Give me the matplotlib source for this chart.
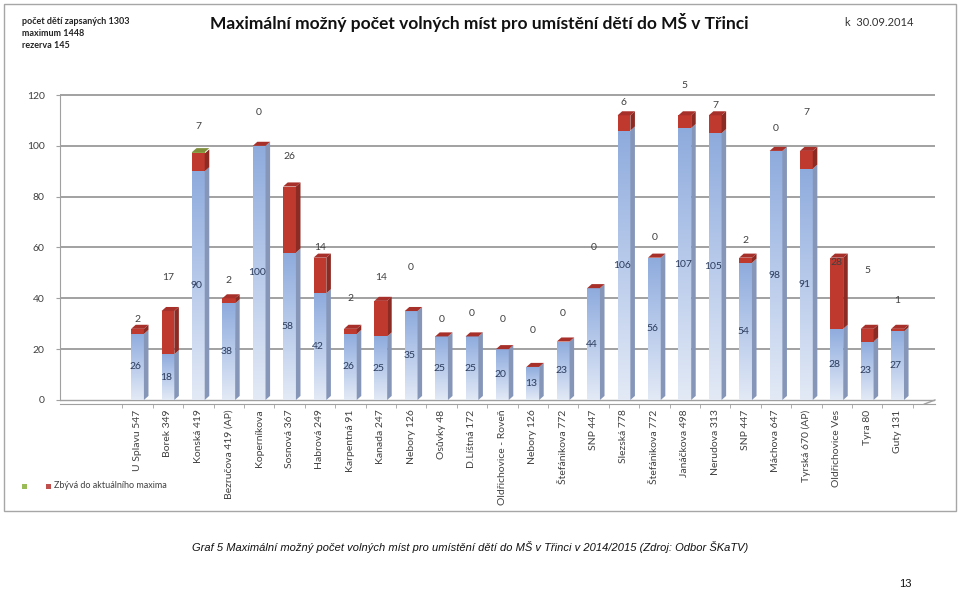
import matplotlib
matplotlib.use("Agg")
import matplotlib.pyplot as plt
import numpy as np
from matplotlib.patches import Polygon, Rectangle
from matplotlib.colors import LinearSegmentedColormap

# ---------------- data ----------------
categories = ["U Splavu 547", "Borek 349", "Konská 419", "Bezručova 419 (AP)", "Koperníkova",
              "Sosnová 367", "Habrová 249", "Karpentná 91", "Kanada 247", "Nebory 126",
              "Osůvky 48", "D.Líštná 172", "Oldřichovice - Roveň", "Nebory 126", "Štefánikova 772",
              "SNP 447", "Slezská 778", "Štefánikova 772", "Janáčkova 498", "Nerudova 313",
              "SNP 447", "Máchova 647", "Tyrská 670 (AP)", "Oldřichovice Ves", "Tyra 80", "Guty 131"]
enrolled = [26, 18, 90, 38, 100, 58, 42, 26, 25, 35, 25, 25, 20, 13, 23, 44, 106, 56, 107, 105,
            54, 98, 91, 28, 23, 27]
remaining = [2, 17, 7, 2, 0, 26, 14, 2, 14, 0, 0, 0, 0, 0, 0, 0, 6, 0, 5, 7, 2, 0, 7, 28, 5, 1]
green_extra = [0, 0, 0.5, 0, 0, 0, 0, 0, 0, 0, 0, 0, 0, 0, 0, 0, 0, 0, 0, 0, 0, 0, 0, 0, 0, 0]
yticks = [0, 20, 40, 60, 80, 100, 120]

# ---------------- layout (label lift above bar top, data units) ----------------
red_label_lift = [3.5, 13, 10, 7, 13, 12, 4, 12, 9, 17, 6.5, 9, 11.5, 14.5, 11, 16, 5, 8,
                  11.6, 4, 6.6, 9, 15, -2, 23, 11]

FW, FH = 960, 590
fig = plt.figure(figsize=(9.6, 5.9), dpi=100)
fig.patch.set_facecolor("white")

font = ["Lato", "DejaVu Sans"]
plt.rcParams["font.family"] = font

def fx(px):
    return px / FW

def fy(py):
    return 1 - py / FH

# chart border
fig.patches.append(Rectangle((fx(4), fy(511)), fx(952), 507 / FH, transform=fig.transFigure,
                             fill=False, edgecolor="#a6a6a6", linewidth=1.0))

x0, x1 = -2.55, 26.23
y0, y1 = -1.6, 121
ax_left, ax_right = fx(60), fx(935)
ax_bottom = fy(400 + 1.6 * 2.54)
ax_top = fy(95 - 1 * 2.54)
ax = fig.add_axes([ax_left, ax_bottom, ax_right - ax_left, ax_top - ax_bottom])
ax.set_facecolor("none")

# gridlines
for t in yticks[1:]:
    ax.axhline(t, color="#9a9a9a", linewidth=1.3, zorder=1)
ax.axhline(0, color="#a0a0a0", linewidth=1.0, zorder=1)
ax.plot([x1, x1 - 0.35], [0, y0], color="#a0a0a0", linewidth=1.0, clip_on=False, zorder=1)

w = 0.42
dx, dy = 0.15, 1.6
xs = np.arange(len(categories))

blue_cmap = LinearSegmentedColormap.from_list("b", ["#e3eaf6", "#b9cbeb", "#8eabdd"])
side_cmap = LinearSegmentedColormap.from_list("s", ["#b6c0d0", "#7e90b4"])
grad = np.linspace(0, 1, 256).reshape(-1, 1)

front = ax.bar(xs, enrolled, width=w, color="none", zorder=3)
for i, rect in enumerate(front):
    b = enrolled[i]
    r = remaining[i]
    g = green_extra[i]
    xl, xr = i - w / 2, i + w / 2
    # blue front with vertical gradient
    im = ax.imshow(grad, cmap=blue_cmap, extent=[xl, xr, 0, b], origin="lower",
                   aspect="auto", zorder=3, interpolation="bilinear")
    im.set_clip_path(rect)
    # blue side
    ax.add_patch(Polygon([(xr, 0), (xr + dx, dy), (xr + dx, b + dy), (xr, b)],
                         closed=True, facecolor="#8596b8", edgecolor="none", zorder=3))
    top = b
    if r > 0:
        ax.add_patch(Rectangle((xl, b), w, r, facecolor="#c0392f", edgecolor="none", zorder=3))
        ax.add_patch(Polygon([(xr, b), (xr + dx, b + dy), (xr + dx, b + r + dy), (xr, b + r)],
                             closed=True, facecolor="#8c2a24", edgecolor="none", zorder=3))
        top = b + r
    if g > 0:
        ax.add_patch(Rectangle((xl, top), w, g, facecolor="#8fa84a", edgecolor="none", zorder=3))
        top = top + g
        cap = "#7f8f3a"
    else:
        cap = "#a8302a"
    ax.add_patch(Polygon([(xl, top), (xl + dx, top + dy), (xr + dx, top + dy), (xr, top)],
                         closed=True, facecolor=cap, edgecolor="none", zorder=3))
    # labels
    ax.text(i - 0.06, b / 2, str(b), ha="center", va="center", fontsize=7.5,
            color="#2b3b5c", zorder=5)
    ax.text(i, top + red_label_lift[i], str(r), ha="center", va="center", fontsize=7.5,
            color="#404040", zorder=5)

ax.set_xlim(x0, x1)
ax.set_ylim(y0, y1)

for s in ["top", "right"]:
    ax.spines[s].set_visible(False)
ax.spines["left"].set_bounds(0, 120)
ax.spines["left"].set_color("#a0a0a0")
ax.spines["bottom"].set_color("#a0a0a0")
ax.set_yticks(yticks)
ax.set_yticklabels([str(t) for t in yticks], fontsize=7.5, color="#404040")
ax.tick_params(axis="y", length=3, color="#a0a0a0", pad=8)
ax.set_xticks(xs)
ax.set_xticklabels(categories, rotation=90, fontsize=7.5, color="#404040")
ax.tick_params(axis="x", which="major", length=0, pad=4)
ax.set_xticks(np.arange(-0.5, len(categories), 1.0), minor=True)
ax.tick_params(axis="x", which="minor", length=3, color="#a0a0a0")

# texts
fig.text(fx(22), fy(22), "počet dětí zapsaných 1303", fontsize=6.5, fontweight="bold",
         color="#222222", va="center", ha="left")
fig.text(fx(22), fy(34), "maximum 1448", fontsize=6.5, fontweight="bold",
         color="#222222", va="center", ha="left")
fig.text(fx(22), fy(46), "rezerva 145", fontsize=6.5, fontweight="bold",
         color="#222222", va="center", ha="left")
fig.text(fx(479), fy(23), "Maximální možný počet volných míst pro umístění dětí do MŠ v Třinci",
         fontsize=12.5, fontweight="bold", color="#111111", ha="center", va="center")
fig.text(fx(845), fy(23), "k  30.09.2014", fontsize=8, color="#333333", ha="left", va="center")

# legend
fig.patches.append(Rectangle((fx(22), fy(489)), fx(5), 5 / FH, transform=fig.transFigure,
                             facecolor="#9bbb59", edgecolor="none"))
fig.patches.append(Rectangle((fx(46), fy(489)), fx(5), 5 / FH, transform=fig.transFigure,
                             facecolor="#c0504d", edgecolor="none"))
fig.text(fx(54), fy(486), "Zbývá do aktuálního maxima", fontsize=6.5, color="#404040",
         ha="left", va="center")

# caption
fig.text(fx(470), fy(547),
         "Graf 5 Maximální možný počet volných míst pro umístění dětí do MŠ v Třinci v 2014/2015 (Zdroj: Odbor ŠKaTV)",
         fontsize=8, style="italic", family=["Liberation Sans Narrow", "Liberation Sans", "DejaVu Sans"],
         color="#111111", ha="center", va="center")
fig.text(fx(905), fy(584), "13", fontsize=8, family=["Liberation Sans Narrow", "Liberation Sans", "DejaVu Sans"],
         color="#111111", ha="center", va="center")

fig.savefig("out.png", dpi=100)
